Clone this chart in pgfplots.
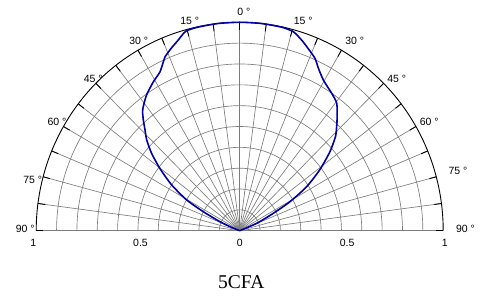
\documentclass[border=0pt]{standalone}
\usepackage{pgfplots}
\pgfplotsset{compat=1.18}
\usepackage{pgfplotstable}
\usepackage{fontspec}
\setmainfont{Liberation Sans}
\newfontfamily\seriffont{Liberation Serif}
\definecolor{gridc}{RGB}{125,125,125}
\definecolor{curvec}{RGB}{0,0,165}

\pgfplotstableread{
t r
-70 0.0
-68 0.045
-66 0.106
-63 0.201
-60.5 0.299
-56.7 0.400
-52.7 0.493
-49.4 0.570
-46.4 0.631
-43.9 0.671
-41.7 0.712
-39.9 0.744
-38.5 0.761
-35.1 0.796
-30.7 0.831
-27.2 0.857
-24.8 0.894
-23.7 0.912
-21 0.938
-18.3 0.963
-15.5 0.993
-12 0.998
-6 1.0
0 1.0
6 1.0
12 0.998
15.5 0.990
18.4 0.964
21 0.937
24.1 0.906
26.4 0.870
29.6 0.832
34.5 0.799
38 0.775
41.8 0.718
43.8 0.688
46.2 0.652
49.5 0.583
53.4 0.490
57.3 0.391
60.6 0.284
63.2 0.185
67 0.091
70.5 0.0
}\beam

\begin{document}
\begin{tikzpicture}
\begin{axis}[
  at={(0pt,0pt)}, anchor=origin,
  x=203.5pt, y=208.4pt,
  xmin=-1, xmax=1, ymin=0, ymax=1,
  hide axis, clip=false,
]
% concentric grid circles
\pgfplotsinvokeforeach{0.1,0.2,0.3,0.4,0.5,0.6,0.7,0.8,0.9}{
  \addplot[gridc, line width=0.65pt, domain=0:180, samples=121] ({#1*cos(x)},{#1*sin(x)});
}
% radial grid lines
\pgfplotsinvokeforeach{-90,-82.5,-75,-67.5,-60,-52.5,-45,-37.5,-30,-22.5,-15,-7.5,0,7.5,15,22.5,30,37.5,45,52.5,60,67.5,75,82.5,90}{
  \addplot[gridc, line width=0.65pt] coordinates {(0,0) ({sin(#1)},{cos(#1)})};
  \addplot[black, line width=0.9pt] coordinates {({0.965*sin(#1)},{0.965*cos(#1)}) ({sin(#1)},{cos(#1)})};
}
% outer arc
\addplot[black, line width=0.9pt, domain=0:180, samples=181] ({cos(x)},{sin(x)});
% data
\addplot[curvec, line width=1.6pt, smooth, tension=0.4] table[
  x expr={\thisrow{r}*sin(\thisrow{t})},
  y expr={\thisrow{r}*cos(\thisrow{t})}] {\beam};
\end{axis}
% angle labels
\begin{scope}[every node/.style={font=\fontsize{10.5}{12}\selectfont, inner sep=0pt}]
\node at (4.1pt,219pt) {0 °};
\node at (-50pt,209.7pt) {15 °};
\node at (63.6pt,209.7pt) {15 °};
\node at (-101pt,189.7pt) {30 °};
\node at (115pt,189.7pt) {30 °};
\node at (-146.4pt,151.4pt) {45 °};
\node at (157pt,151.4pt) {45 °};
\node at (-182.7pt,108.4pt) {60 °};
\node at (189.6pt,108.4pt) {60 °};
\node at (-207pt,50.7pt) {75 °};
\node at (218.3pt,59.7pt) {75 °};
\node at (-214.4pt,2pt) {90 °};
\node at (225.8pt,2pt) {90 °};
\node at (-206.4pt,-12pt) {1};
\node at (-99.2pt,-12pt) {0.5};
\node at (0pt,-12pt) {0};
\node at (107.5pt,-12pt) {0.5};
\node at (205pt,-12pt) {1};
\node at (1.6pt,-51.3pt) {\seriffont\fontsize{19.5}{21}\selectfont 5CFA};
\end{scope}
\pgfresetboundingbox
\path[use as bounding box] (-239.7pt,-65.3pt) rectangle (243.3pt,230.7pt);
\end{tikzpicture}
\end{document}
